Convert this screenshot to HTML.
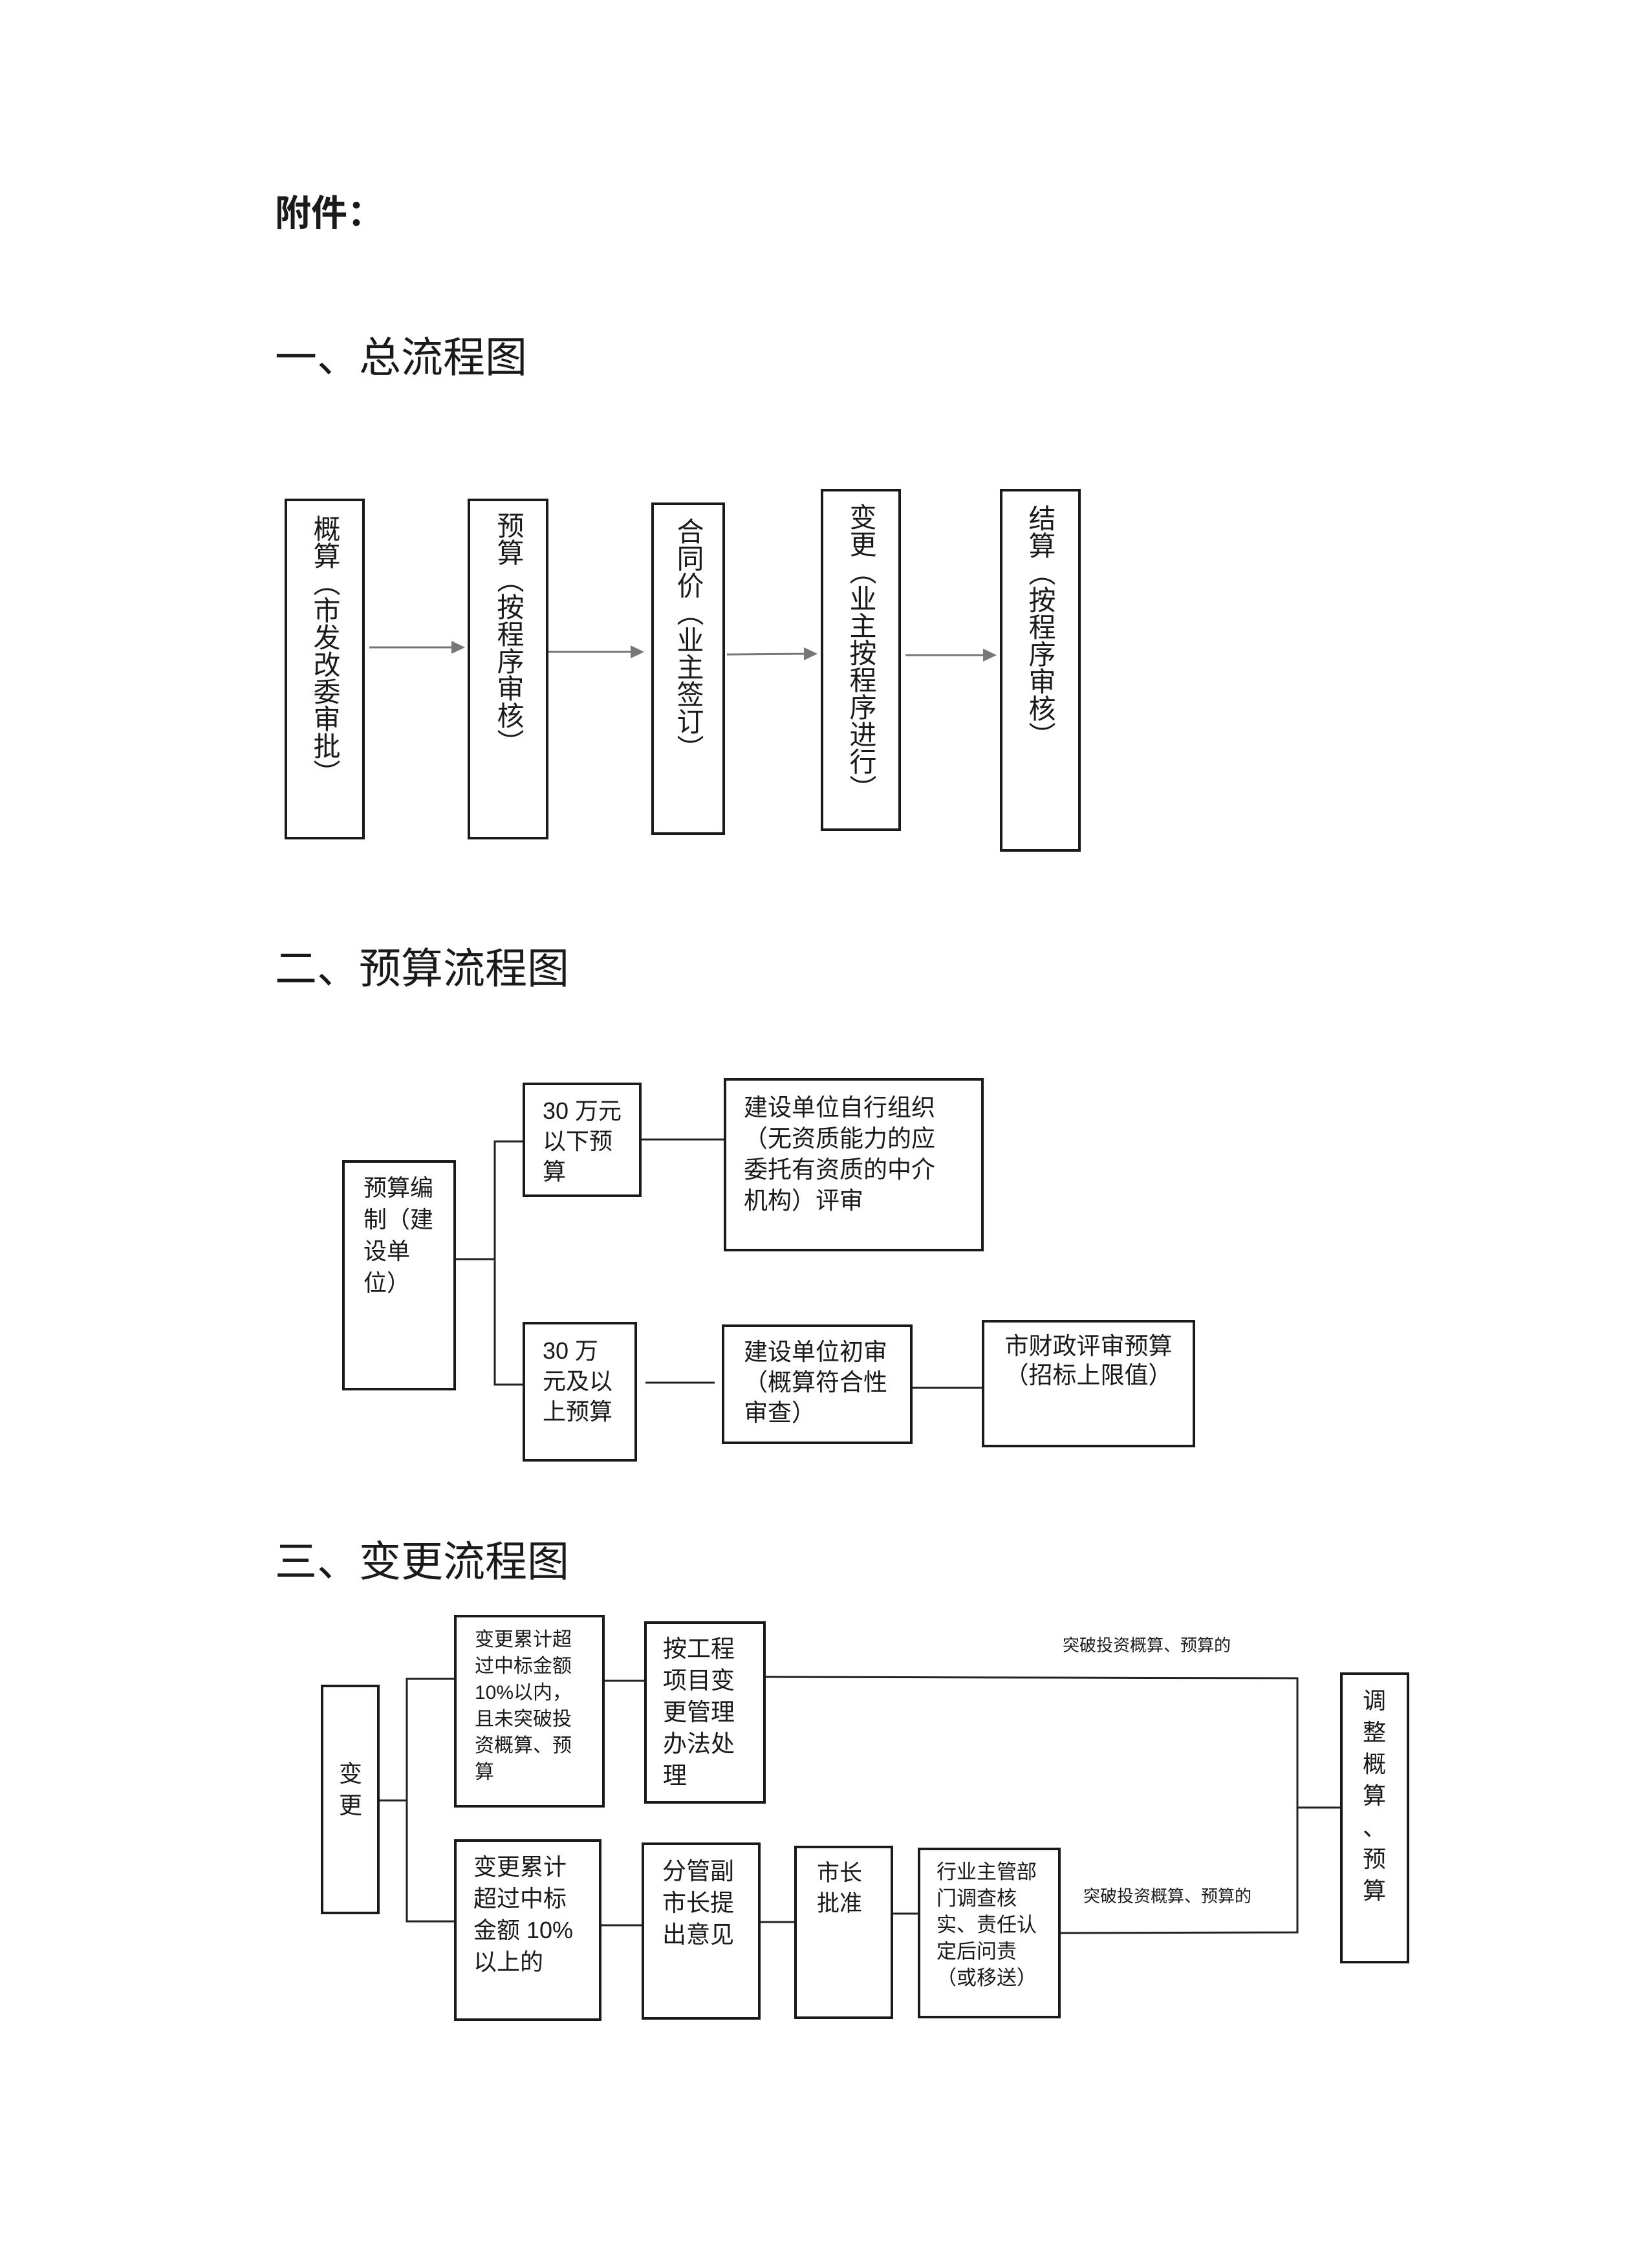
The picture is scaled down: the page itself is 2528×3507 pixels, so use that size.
<!DOCTYPE html>
<html><head><meta charset="utf-8">
<style>
html,body{margin:0;padding:0;background:#fff;}
body{width:2528px;height:3507px;position:relative;overflow:hidden;font-family:"Liberation Sans","Noto Sans CJK SC",sans-serif;color:#1a1a1a;}
.b{position:absolute;border:4px solid #1a1a1a;box-sizing:border-box;}
.t{position:absolute;white-space:pre;}
.v{position:absolute;writing-mode:vertical-rl;font-size:42px;line-height:42px;width:42px;}
.h{position:absolute;font-size:65px;line-height:65px;white-space:pre;}
</style></head><body>

<div class="h" style="left:425px;top:300px;font-size:56px;line-height:60px;font-weight:bold;">附件：</div>
<div class="h" style="left:425px;top:520px;">一、总流程图</div>
<div class="h" style="left:425px;top:1465px;">二、预算流程图</div>
<div class="h" style="left:425px;top:2382px;">三、变更流程图</div>

<!-- Section 1 -->
<div class="b" style="left:440px;top:771px;width:124px;height:527px;"></div>
<div class="b" style="left:723px;top:771px;width:125px;height:527px;"></div>
<div class="b" style="left:1007px;top:777px;width:114px;height:514px;"></div>
<div class="b" style="left:1269px;top:756px;width:124px;height:529px;"></div>
<div class="b" style="left:1546px;top:756px;width:125px;height:561px;"></div>
<div class="v" style="left:481px;top:796px;">概算（市发改委审批）</div>
<div class="v" style="left:765px;top:791px;">预算（按程序审核）</div>
<div class="v" style="left:1043px;top:800px;">合同价（业主签订）</div>
<div class="v" style="left:1310px;top:778px;">变更（业主按程序进行）</div>
<div class="v" style="left:1587px;top:780px;">结算（按程序审核）</div>

<svg style="position:absolute;left:0;top:0" width="2528" height="3507">
<g stroke="#777" stroke-width="3" fill="#777">
<line x1="571" y1="1001" x2="700" y2="1001"/><polygon points="698,991 719,1001 698,1011" stroke="none"/>
<line x1="848" y1="1008" x2="977" y2="1008"/><polygon points="975,998 996,1008 975,1018" stroke="none"/>
<line x1="1124" y1="1012" x2="1245" y2="1011"/><polygon points="1243,1001 1264,1011 1243,1021" stroke="none"/>
<line x1="1400" y1="1013" x2="1522" y2="1013"/><polygon points="1520,1003 1541,1013 1520,1023" stroke="none"/>
</g>
<g stroke="#222" stroke-width="3" fill="none">
<polyline points="705,1947 765,1947"/>
<polyline points="808,1765 765,1765 765,2141 808,2141"/>
<line x1="992" y1="1762" x2="1119" y2="1762"/>
<line x1="998" y1="2138" x2="1105" y2="2138"/>
<line x1="1411" y1="2146" x2="1518" y2="2146"/>
<line x1="587" y1="2784" x2="629" y2="2784"/>
<polyline points="702,2596 629,2596 629,2971 702,2971"/>
<line x1="935" y1="2599" x2="996" y2="2599"/>
<polyline points="1184,2593 2006,2595 2006,2988 1640,2989"/>
<line x1="930" y1="2977" x2="992" y2="2977"/>
<line x1="1176" y1="2972" x2="1228" y2="2972"/>
<line x1="1381" y1="2959" x2="1419" y2="2959"/>
<line x1="2006" y1="2795" x2="2075" y2="2795"/>
</g>
</svg>

<!-- Section 2 -->
<div class="b" style="left:529px;top:1794px;width:176px;height:356px;"></div>
<div class="t" style="left:562px;top:1812px;font-size:36px;line-height:49px;">预算编
制（建
设单
位）</div>
<div class="b" style="left:808px;top:1674px;width:184px;height:177px;"></div>
<div class="t" style="left:839px;top:1694px;font-size:36px;line-height:47px;">30 万元
以下预
算</div>
<div class="b" style="left:1119px;top:1667px;width:402px;height:268px;"></div>
<div class="t" style="left:1150px;top:1689px;font-size:37px;line-height:48px;">建设单位自行组织
（无资质能力的应
委托有资质的中介
机构）评审</div>
<div class="b" style="left:808px;top:2044px;width:177px;height:216px;"></div>
<div class="t" style="left:839px;top:2065px;font-size:36px;line-height:47px;">30 万
元及以
上预算</div>
<div class="b" style="left:1116px;top:2048px;width:295px;height:185px;"></div>
<div class="t" style="left:1150px;top:2067px;font-size:37px;line-height:47px;">建设单位初审
（概算符合性
审查）</div>
<div class="b" style="left:1518px;top:2041px;width:330px;height:197px;"></div>
<div class="t" style="left:1518px;width:330px;text-align:center;top:2059px;font-size:37px;line-height:45px;">市财政评审预算
（招标上限值）</div>

<!-- Section 3 -->
<div class="b" style="left:496px;top:2605px;width:91px;height:355px;"></div>
<div class="t" style="left:524px;top:2718px;font-size:36px;line-height:49px;">变
更</div>
<div class="b" style="left:702px;top:2497px;width:233px;height:298px;"></div>
<div class="t" style="left:734px;top:2515px;font-size:30px;line-height:41px;">变更累计超
过中标金额
10%以内，
且未突破投
资概算、预
算</div>
<div class="b" style="left:996px;top:2507px;width:188px;height:282px;"></div>
<div class="t" style="left:1025px;top:2525px;font-size:37px;line-height:49px;">按工程
项目变
更管理
办法处
理</div>
<div class="b" style="left:702px;top:2844px;width:228px;height:281px;"></div>
<div class="t" style="left:732px;top:2862px;font-size:36px;line-height:49px;">变更累计
超过中标
金额 10%
以上的</div>
<div class="b" style="left:992px;top:2849px;width:184px;height:274px;"></div>
<div class="t" style="left:1024px;top:2869px;font-size:37px;line-height:49px;">分管副
市长提
出意见</div>
<div class="b" style="left:1228px;top:2854px;width:153px;height:268px;"></div>
<div class="t" style="left:1263px;top:2873px;font-size:35px;line-height:47px;">市长
批准</div>
<div class="b" style="left:1419px;top:2857px;width:221px;height:264px;"></div>
<div class="t" style="left:1448px;top:2874px;font-size:31px;line-height:41px;">行业主管部
门调查核
实、责任认
定后问责
（或移送）</div>
<div class="b" style="left:2072px;top:2586px;width:107px;height:450px;"></div>
<div class="t" style="left:2107px;top:2605px;font-size:36px;line-height:49px;">调
整
概
算
、
预
算</div>
<div class="t" style="left:1643px;top:2530px;font-size:26px;line-height:28px;">突破投资概算、预算的</div>
<div class="t" style="left:1675px;top:2918px;font-size:26px;line-height:28px;">突破投资概算、预算的</div>

</body></html>
